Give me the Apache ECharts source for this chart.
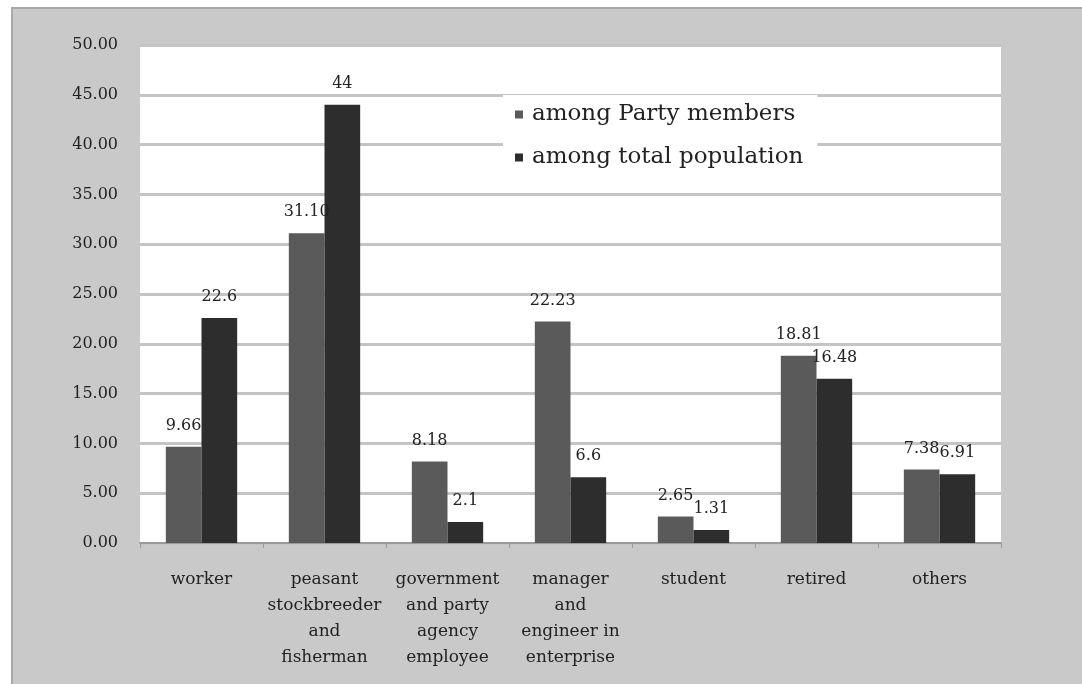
<!DOCTYPE html>
<html>
<head>
<meta charset="utf-8">
<script src="https://cdn.jsdelivr.net/npm/echarts@6/dist/echarts.min.js"></script>
<style>
html,body{margin:0;padding:0;background:#fff;}
#frame{position:absolute;left:11px;top:7px;width:1071px;height:677px;background:#c9c9c9;border-left:2px solid #a9a9a9;border-top:2px solid #a9a9a9;box-sizing:border-box;}
#main{position:absolute;left:0;top:0;width:1082px;height:684px;}
</style>
</head>
<body>
<div id="frame"></div>
<div id="main"></div>
<script>

var categories = ['worker', 'peasant\nstockbreeder\nand\nfisherman', 'government\nand party\nagency\nemployee',
    'manager\nand\nengineer in\nenterprise', 'student', 'retired', 'others'];
var partyMembers = [9.66, 31.10, 8.18, 22.23, 2.65, 18.81, 7.38];
var totalPopulation = [22.6, 44, 2.1, 6.6, 1.31, 16.48, 6.91];
var seriesNames = ['among Party members', 'among total population'];

var serif = '"DejaVu Serif", "Liberation Serif", serif';

var myChart = echarts.init(document.getElementById('main'));

var option = {
    animation: false,
    textStyle: {fontFamily: serif},
    grid: {
        left: 140, right: 81, top: 45, bottom: 141,
        show: true, backgroundColor: '#fff', borderWidth: 0
    },
    legend: {
        orient: 'vertical',
        left: 503, top: 95,
        backgroundColor: '#fff',
        padding: [8, 14, 10, 12],
        itemGap: 20,
        itemWidth: 8, itemHeight: 8,
        icon: 'rect',
        textStyle: {fontFamily: serif, fontSize: 23, color: '#222', padding: [0, 0, 0, 4]},
        data: seriesNames
    },
    xAxis: {
        type: 'category',
        data: categories,
        axisLine: {lineStyle: {color: '#9a9a9a', width: 2}},
        axisTick: {show: true, length: 5, lineStyle: {color: '#9a9a9a'}},
        axisLabel: {
            fontFamily: serif, fontSize: 17, color: '#222',
            margin: 24, lineHeight: 26, interval: 0
        }
    },
    yAxis: {
        type: 'value',
        min: 0, max: 50, interval: 5,
        axisLine: {show: false},
        axisTick: {show: false},
        axisLabel: {
            fontFamily: serif, fontSize: 16, color: '#222', margin: 22,
            formatter: function (v) { return v.toFixed(2); }
        },
        splitLine: {lineStyle: {color: '#c4c4c4', width: 3}}
    },
    series: [
        {
            name: seriesNames[0],
            type: 'bar',
            data: partyMembers,
            barGap: '0%',
            barCategoryGap: '42%',
            itemStyle: {color: '#5a5a5a'},
            label: {
                show: true, position: 'top', distance: 13,
                fontFamily: serif, fontSize: 16, color: '#222',
                formatter: function (p) { return p.value.toFixed(2); }
            }
        },
        {
            name: seriesNames[1],
            type: 'bar',
            data: totalPopulation,
            itemStyle: {color: '#2d2d2d'},
            label: {
                show: true, position: 'top', distance: 13,
                fontFamily: serif, fontSize: 16, color: '#222',
                formatter: function (p) { return String(p.value); }
            }
        }
    ]
};

myChart.setOption(option);
</script>
</body>
</html>
